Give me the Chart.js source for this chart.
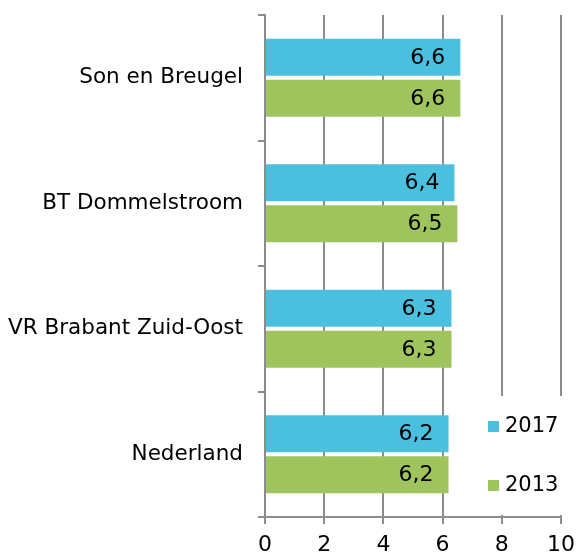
<!DOCTYPE html>
<html>
<head>
<meta charset="utf-8">
<script src="https://cdn.jsdelivr.net/npm/chart.js@4.4.0/dist/chart.umd.min.js"></script>
<style>
  html, body { margin: 0; padding: 0; background: #fff; }
  #wrap { width: 578px; height: 554px; }
</style>
</head>
<body>
<div id="wrap"><canvas id="chart"></canvas></div>
<script>
// categories and series
const categories = ['Son en Breugel', 'BT Dommelstroom', 'VR Brabant Zuid-Oost', 'Nederland'];
const values2017 = [6.6, 6.4, 6.3, 6.2];
const values2013 = [6.6, 6.5, 6.3, 6.2];
const xTicks = [0, 2, 4, 6, 8, 10];

const FONT = "'DejaVu Sans', Verdana, sans-serif";
const NUM_SIZE = 22;
const CAT_SIZE = 21.5;
const GRID = '#8c8c8c';

// values written inside the bar end, with a decimal comma
const valueLabels = {
    id: 'valueLabels',
    afterDatasetsDraw(chart) {
        const ctx = chart.ctx;
        ctx.save();
        ctx.font = NUM_SIZE + 'px ' + FONT;
        ctx.fillStyle = '#000';
        ctx.textAlign = 'right';
        ctx.textBaseline = 'middle';
        chart.data.datasets.forEach((ds, i) => {
            chart.getDatasetMeta(i).data.forEach((bar, j) => {
                const txt = ds.data[j].toFixed(1).replace('.', ',');
                ctx.fillText(txt, bar.x - 15, bar.y + 1);
            });
        });
        ctx.restore();
    }
};

// legend sitting in the lower right of the plot, on a white box
const boxLegend = {
    id: 'boxLegend',
    afterDraw(chart) {
        const ctx = chart.ctx;
        const area = chart.chartArea;
        const left = area.right - 83;
        ctx.save();
        ctx.fillStyle = '#fff';
        ctx.fillRect(left, area.bottom - 121, chart.width - left, 119);
        ctx.font = '21px ' + FONT;
        ctx.textAlign = 'left';
        ctx.textBaseline = 'middle';
        const rows = [area.bottom - 91, area.bottom - 32];
        chart.data.datasets.forEach((ds, i) => {
            const y = rows[i];
            ctx.fillStyle = ds.backgroundColor;
            ctx.fillRect(left + 10, y - 5, 11, 11);
            ctx.fillStyle = '#000';
            ctx.fillText(ds.label, left + 27, y + 1);
        });
        ctx.restore();
    }
};

new Chart(document.getElementById('chart'), {
    type: 'bar',
    data: {
        labels: categories,
        datasets: [
            { label: '2017', data: values2017, backgroundColor: '#4bc0de' },
            { label: '2013', data: values2013, backgroundColor: '#9fc45e' }
        ]
    },
    options: {
        indexAxis: 'y',
        responsive: true,
        maintainAspectRatio: false,
        animation: false,
        devicePixelRatio: 1,
        layout: { padding: { top: 15, right: 17, left: 0, bottom: 0 } },
        datasets: {
            bar: { categoryPercentage: 0.653, barPercentage: 0.9 }
        },
        scales: {
            x: {
                min: 0,
                max: 10,
                afterBuildTicks(axis) {
                    axis.ticks = xTicks.map(v => ({ value: v }));
                },
                afterFit(axis) {
                    axis.height = 37;
                    axis.paddingLeft = 0;
                    axis.paddingRight = 0;
                },
                grid: {
                    color: GRID,
                    lineWidth: 2,
                    tickLength: 7
                },
                border: { color: GRID, width: 2 },
                ticks: {
                    color: '#000',
                    font: { family: FONT, size: NUM_SIZE },
                    padding: 8
                }
            },
            y: {
                afterFit(axis) {
                    axis.width = 265;
                    axis.paddingTop = 0;
                    axis.paddingBottom = 0;
                },
                grid: {
                    offset: true,
                    drawOnChartArea: false,
                    color: GRID,
                    lineWidth: 2,
                    tickLength: 7
                },
                border: { color: GRID, width: 2 },
                ticks: {
                    color: '#000',
                    font: { family: FONT, size: CAT_SIZE },
                    padding: 15
                }
            }
        },
        plugins: {
            legend: { display: false },
            tooltip: { enabled: false }
        }
    },
    plugins: [valueLabels, boxLegend]
});
</script>
</body>
</html>
